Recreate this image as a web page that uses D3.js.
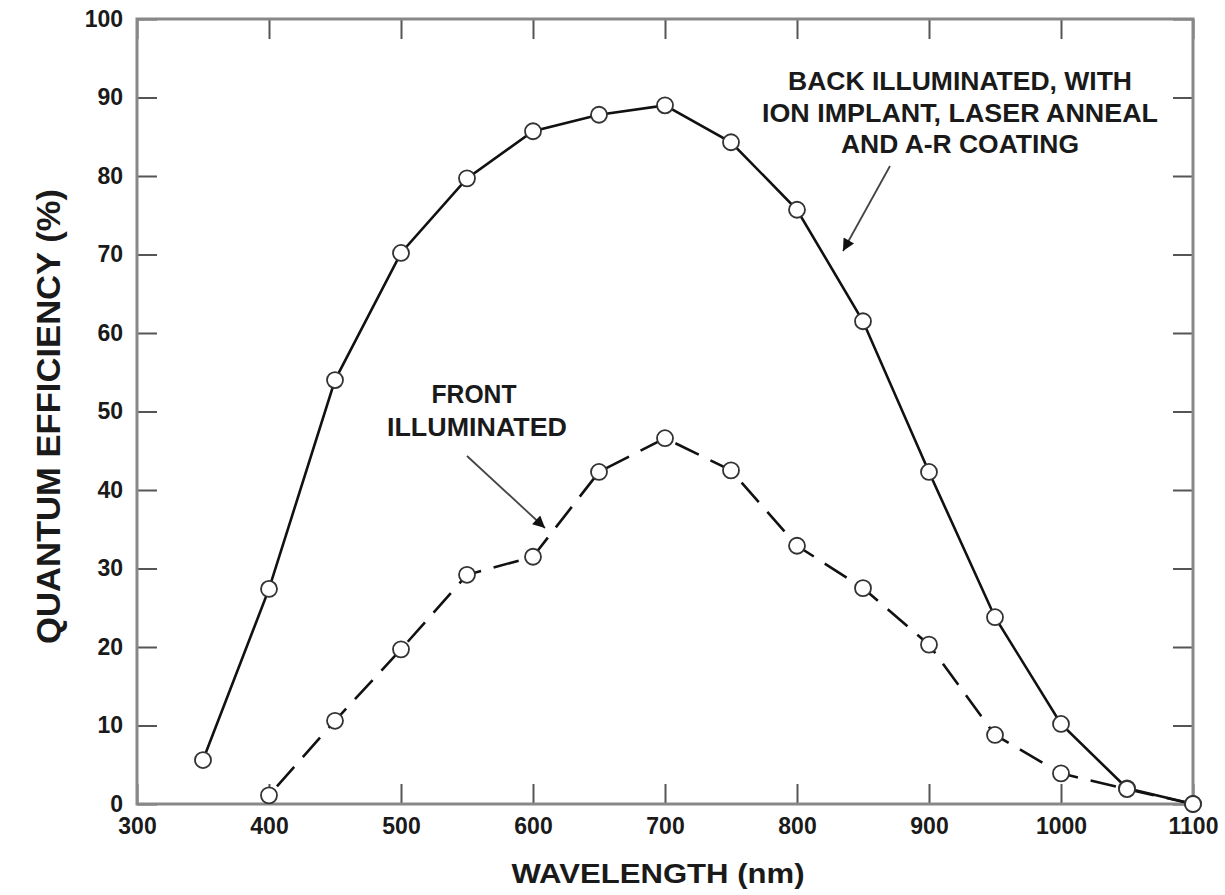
<!DOCTYPE html>
<html>
<head>
<meta charset="utf-8">
<script src="https://cdn.jsdelivr.net/npm/d3@7"></script>
<style>
  html, body { margin: 0; padding: 0; background: #fff; }
  svg text { font-family: "Liberation Sans", Arial, Helvetica, sans-serif; fill: #1a1a1a; }
</style>
</head>
<body>
<div id="chart"></div>
<script>
// data
const wavelengths = [350, 400, 450, 500, 550, 600, 650, 700, 750, 800, 850, 900, 950, 1000, 1050, 1100];
const backQE = [5.6, 27.4, 54, 70.2, 79.7, 85.7, 87.8, 89, 84.3, 75.7, 61.5, 42.3, 23.8, 10.2, 2, 0];
const frontWavelengths = [400, 450, 500, 550, 600, 650, 700, 750, 800, 850, 900, 950, 1000, 1050, 1100];
const frontQE = [1.1, 10.6, 19.7, 29.2, 31.5, 42.3, 46.6, 42.5, 32.9, 27.5, 20.3, 8.8, 3.9, 1.9, 0];
const xTicks = [300, 400, 500, 600, 700, 800, 900, 1000, 1100];
const yTicks = [0, 10, 20, 30, 40, 50, 60, 70, 80, 90, 100];
const backLabel = ["BACK ILLUMINATED, WITH", "ION IMPLANT, LASER ANNEAL", "AND A-R COATING"];
const frontLabel = ["FRONT", "ILLUMINATED"];

const W = 1225, H = 895;
const m = { top: 19, right: 32, bottom: 91, left: 137 };

const svg = d3.select("#chart").append("svg")
  .attr("width", W)
  .attr("height", H);

const x = d3.scaleLinear().domain([300, 1100]).range([m.left, W - m.right]);
const y = d3.scaleLinear().domain([0, 100]).range([H - m.bottom, m.top]);

const defs = svg.append("defs");
defs.append("marker")
  .attr("id", "arrow")
  .attr("viewBox", "0 0 10 10")
  .attr("refX", 10).attr("refY", 5)
  .attr("markerWidth", 19).attr("markerHeight", 12)
  .attr("markerUnits", "userSpaceOnUse")
  .attr("orient", "auto")
  .append("path")
  .attr("d", "M0,0 L10,5 L0,10 Z")
  .attr("fill", "#111");

// --- axes: inward ticks on all four sides ---
const tickLen = 20;
const fmt = d3.format("d");

const xAxisB = svg.append("g")
  .attr("transform", `translate(0,${y(0)})`)
  .call(d3.axisBottom(x).tickValues(xTicks).tickSize(-tickLen).tickPadding(14).tickFormat(fmt));
const xAxisT = svg.append("g")
  .attr("transform", `translate(0,${y(100)})`)
  .call(d3.axisTop(x).tickValues(xTicks).tickSize(-tickLen).tickFormat(""));
const yAxisL = svg.append("g")
  .attr("transform", `translate(${x(300)},0)`)
  .call(d3.axisLeft(y).tickValues(yTicks).tickSize(-tickLen).tickPadding(14).tickFormat(fmt));
const yAxisR = svg.append("g")
  .attr("transform", `translate(${x(1100)},0)`)
  .call(d3.axisRight(y).tickValues(yTicks).tickSize(-tickLen).tickFormat(""));

[xAxisB, xAxisT, yAxisL, yAxisR].forEach(a => {
  a.select(".domain").remove();
  a.selectAll(".tick line").attr("stroke", "#555").attr("stroke-width", 2);
  a.selectAll(".tick text")
    .style("font-size", "23px")
    .style("font-weight", "bold")
    .attr("fill", "#2a2a2a");
});

// frame
svg.append("rect")
  .attr("x", x(300)).attr("y", y(100))
  .attr("width", x(1100) - x(300))
  .attr("height", y(0) - y(100))
  .attr("fill", "none")
  .attr("stroke", "#888")
  .attr("stroke-width", 3);

// axis titles
svg.append("text")
  .attr("x", 658).attr("y", 883)
  .attr("text-anchor", "middle")
  .attr("textLength", 293)
  .attr("lengthAdjust", "spacingAndGlyphs")
  .style("font-size", "28px")
  .style("font-weight", "bold")
  .text("WAVELENGTH (nm)");

svg.append("text")
  .attr("transform", `translate(60,${(188 + 645) / 2}) rotate(-90)`)
  .attr("text-anchor", "middle")
  .attr("textLength", 455)
  .attr("lengthAdjust", "spacingAndGlyphs")
  .style("font-size", "34px")
  .style("font-weight", "bold")
  .text("QUANTUM EFFICIENCY (%)");

// --- series ---
const line = d3.line().x(d => x(d[0])).y(d => y(d[1]));
const backData = wavelengths.map((w, i) => [w, backQE[i]]);
const frontData = frontWavelengths.map((w, i) => [w, frontQE[i]]);

svg.append("path")
  .datum(backData)
  .attr("d", line)
  .attr("fill", "none")
  .attr("stroke", "#111")
  .attr("stroke-width", 2.6);

svg.append("path")
  .datum(frontData)
  .attr("d", line)
  .attr("fill", "none")
  .attr("stroke", "#111")
  .attr("stroke-width", 2.6)
  .attr("stroke-dasharray", "26,13")
  .attr("stroke-dashoffset", -12);

function dots(data) {
  svg.append("g").selectAll("circle")
    .data(data)
    .join("circle")
    .attr("cx", d => x(d[0]))
    .attr("cy", d => y(d[1]))
    .attr("r", 8)
    .attr("fill", "#fff")
    .attr("stroke", "#333")
    .attr("stroke-width", 1.8);
}
dots(backData);
dots(frontData);

// --- annotations ---
const backWidths = [344, 396, 238];
svg.append("g").selectAll("text")
  .data(backLabel)
  .join("text")
  .attr("x", 960)
  .attr("y", (d, i) => 90 + i * 31.5)
  .attr("text-anchor", "middle")
  .attr("textLength", (d, i) => backWidths[i])
  .attr("lengthAdjust", "spacingAndGlyphs")
  .style("font-size", "26px")
  .style("font-weight", "bold")
  .text(d => d);

const frontWidths = [85, 180];
svg.append("g").selectAll("text")
  .data(frontLabel)
  .join("text")
  .attr("x", (d, i) => i === 0 ? 474 : 477)
  .attr("y", (d, i) => 403 + i * 33)
  .attr("text-anchor", "middle")
  .attr("textLength", (d, i) => frontWidths[i])
  .attr("lengthAdjust", "spacingAndGlyphs")
  .style("font-size", "25px")
  .style("font-weight", "bold")
  .text(d => d);

svg.append("line")
  .attr("x1", 890).attr("y1", 166)
  .attr("x2", 843).attr("y2", 251)
  .attr("stroke", "#444").attr("stroke-width", 1.8)
  .attr("marker-end", "url(#arrow)");

svg.append("line")
  .attr("x1", 467).attr("y1", 456)
  .attr("x2", 545).attr("y2", 528)
  .attr("stroke", "#444").attr("stroke-width", 1.8)
  .attr("marker-end", "url(#arrow)");
</script>
</body>
</html>
